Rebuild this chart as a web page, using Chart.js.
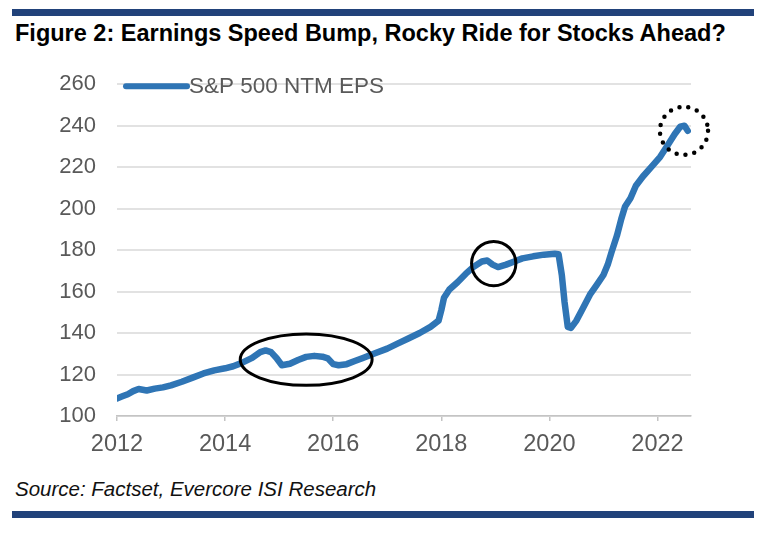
<!DOCTYPE html>
<html>
<head>
<meta charset="utf-8">
<script src="https://cdn.jsdelivr.net/npm/chart.js@4"></script>
<style>
  html, body { margin: 0; padding: 0; background: #fff; }
  body { width: 768px; height: 535px; position: relative; overflow: hidden; font-family: "Liberation Sans", Arial, sans-serif; }
  .bar { position: absolute; left: 12px; width: 742px; height: 7px; background: #21427a; }
  #title { position: absolute; left: 15px; top: 20px; font-weight: bold; font-size: 23.5px; color: #000; white-space: nowrap; }
  #source { position: absolute; left: 15px; top: 477px; font-style: italic; font-size: 20.5px; color: #111; white-space: nowrap; }
  #wrap { position: absolute; left: 0; top: 50px; width: 768px; height: 420px; }
</style>
</head>
<body>
<div class="bar" style="top:9px"></div>
<div id="title">Figure 2: Earnings Speed Bump, Rocky Ride for Stocks Ahead?</div>
<div id="wrap"><canvas id="chartEps"></canvas></div>
<div id="source">Source: Factset, Evercore ISI Research</div>
<div class="bar" style="top:511px"></div>

<script>
// ── Data (decimal year, NTM EPS) ─────────────────────────────────────────
const years = [
  2012.00, 2012.10, 2012.20, 2012.30, 2012.40, 2012.55, 2012.70, 2012.85,
  2013.00, 2013.20, 2013.40, 2013.60, 2013.80, 2014.00, 2014.15, 2014.30,
  2014.50, 2014.65, 2014.75, 2014.85, 2014.95, 2015.05, 2015.20, 2015.35,
  2015.50, 2015.65, 2015.80, 2015.90, 2016.00, 2016.10, 2016.25, 2016.40,
  2016.55, 2016.75, 2017.00, 2017.20, 2017.40, 2017.60, 2017.80, 2017.95,
  2018.00, 2018.05, 2018.15, 2018.30, 2018.45, 2018.60, 2018.75, 2018.85,
  2018.95, 2019.05, 2019.20, 2019.35, 2019.50, 2019.70, 2019.90, 2020.10,
  2020.17, 2020.23, 2020.28, 2020.34, 2020.40, 2020.50, 2020.62, 2020.75,
  2020.87, 2021.00, 2021.08, 2021.15, 2021.25, 2021.33, 2021.40, 2021.50,
  2021.60, 2021.73, 2021.90, 2022.05, 2022.20, 2022.32, 2022.42, 2022.50,
  2022.56
];
const eps = [
  108.5, 109.5, 110.5, 112.0, 113.0, 112.3, 113.2, 113.8,
  114.8, 116.5, 118.5, 120.5, 122.0, 123.0, 124.0, 125.5,
  128.0, 130.8, 131.6, 130.8, 128.0, 124.5, 125.2, 127.0,
  128.5, 129.0, 128.6, 127.8, 125.0, 124.5, 125.0, 126.5,
  128.0, 130.0, 132.5, 135.0, 137.5, 140.0, 143.0, 146.0,
  151.0, 157.0, 161.0, 164.5, 168.5, 172.0, 174.5, 175.0,
  173.0, 171.8, 173.0, 174.5, 176.0, 177.0, 177.8, 178.2,
  178.0, 168.0, 155.0, 143.0, 142.5, 146.0, 152.0, 158.5,
  163.0, 168.0, 173.0, 179.0, 187.0, 195.0, 201.0, 205.0,
  211.0, 215.5, 220.5, 225.0, 231.0, 236.0, 239.5, 240.0,
  237.5
];
const xTickLabels = ['2012', '2014', '2016', '2018', '2020', '2022'];
const seriesLabel = 'S&P 500 NTM EPS';

// Highlight marks, in data units: [centerYear, centerEps, radiusYears, radiusEps]
const ellipseMark = [2015.50, 127.2, 1.22, 12.4];
const circleMark  = [2018.97, 173.5, 0.41];
const dottedMark  = [2022.49, 237.5, 0.445];

const BLUE = '#2f75b5';
const GREY_TXT = '#595959';

// ── Plugins ───────────────────────────────────────────────────────────────
const legendInside = {
    id: 'legendInside',
    afterDraw(chart) {
        const ctx = chart.ctx, area = chart.chartArea;
        const y = area.top + 2;
        ctx.save();
        ctx.strokeStyle = BLUE;
        ctx.lineWidth = 6;
        ctx.lineCap = 'round';
        ctx.beginPath();
        ctx.moveTo(area.left + 9, y);
        ctx.lineTo(area.left + 70, y);
        ctx.stroke();
        ctx.fillStyle = GREY_TXT;
        ctx.font = '22.5px "Liberation Sans", Arial, sans-serif';
        ctx.textBaseline = 'middle';
        ctx.textAlign = 'left';
        ctx.fillText(seriesLabel, area.left + 72, y + 1);
        ctx.restore();
    }
};

const marks = {
    id: 'marks',
    afterDatasetsDraw(chart) {
        const ctx = chart.ctx, xs = chart.scales.x, ys = chart.scales.y;
        const px = v => xs.getPixelForValue(v), py = v => ys.getPixelForValue(v);
        ctx.save();
        ctx.strokeStyle = '#000';

        // ellipse 2014-2016
        ctx.lineWidth = 3;
        ctx.beginPath();
        const [ex, ey, erx, ery] = ellipseMark;
        ctx.ellipse(px(ex), py(ey), px(ex + erx) - px(ex), py(ey) - py(ey + ery), 0, 0, Math.PI * 2);
        ctx.stroke();

        // circle late 2018
        const [cx, cy, cr] = circleMark;
        ctx.beginPath();
        ctx.arc(px(cx), py(cy), px(cx + cr) - px(cx), 0, Math.PI * 2);
        ctx.stroke();

        // dotted circle 2022
        const [dx, dy, dr] = dottedMark;
        ctx.lineWidth = 4.5;
        ctx.lineCap = 'round';
        ctx.setLineDash([0, 9]);
        ctx.beginPath();
        ctx.arc(px(dx), py(dy), px(dx + dr) - px(dx), 0, Math.PI * 2);
        ctx.stroke();
        ctx.restore();
    }
};

// ── Chart ─────────────────────────────────────────────────────────────────
new Chart(document.getElementById('chartEps'), {
    type: 'line',
    data: {
        datasets: [{
            label: seriesLabel,
            data: years.map((x, i) => ({ x, y: eps[i] })),
            borderColor: BLUE,
            borderWidth: 6.5,
            borderJoinStyle: 'round',
            borderCapStyle: 'round',
            pointRadius: 0,
            tension: 0,
            fill: false
        }]
    },
    options: {
        responsive: true, maintainAspectRatio: false, animation: false,
        layout: { padding: { left: 0, right: 77, top: 31, bottom: 14 } },
        plugins: { legend: { display: false }, tooltip: { enabled: false } },
        scales: {
            x: {
                type: 'linear', min: 2012, max: 2022.62,
                afterFit: s => { s.height = 40; },
                ticks: {
                    stepSize: 2, includeBounds: false, autoSkip: false, maxRotation: 0,
                    color: GREY_TXT, padding: 9,
                    font: { family: '"Liberation Sans", Arial, sans-serif', size: 23.5 },
                    callback: v => xTickLabels[Math.round((v - 2012) / 2)]
                },
                grid: { drawOnChartArea: false, drawTicks: true, tickLength: 5, color: '#c4c4c4', lineWidth: 1.5 },
                border: { display: true, color: '#c4c4c4', width: 1.5 }
            },
            y: {
                min: 100, max: 260,
                afterFit: s => { s.width = 117; },
                ticks: {
                    stepSize: 20, color: GREY_TXT, padding: 21,
                    font: { family: '"Liberation Sans", Arial, sans-serif', size: 22 }
                },
                grid: { color: '#e2e2e2', lineWidth: 2, drawTicks: false },
                border: { display: false }
            }
        }
    },
    plugins: [marks, legendInside]
});
</script>
</body>
</html>
